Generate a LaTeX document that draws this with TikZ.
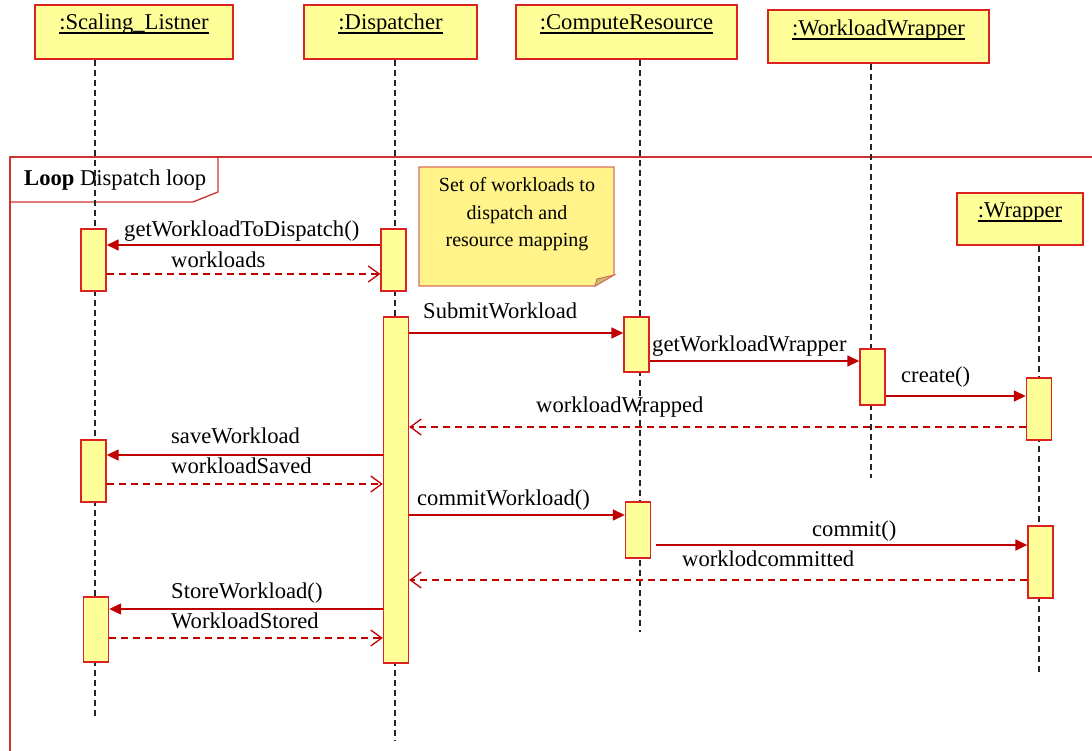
\documentclass[tikz,border=0pt]{standalone}
\usepackage{fontspec}
\setmainfont{Liberation Serif}
\newfontfamily\diagfont{Liberation Serif}
\usetikzlibrary{arrows.meta}

\definecolor{objfill}{HTML}{FFFF99}
\definecolor{objline}{HTML}{DD2222}
\definecolor{msgred}{HTML}{C00000}
\definecolor{framered}{HTML}{CC3333}
\definecolor{notefill}{HTML}{FFF38A}
\definecolor{noteline}{HTML}{D8705E}
\definecolor{notefold}{HTML}{C9C070}

% object names: underline drawn close to the baseline
\newcommand\objname[1]{\setbox0\hbox{#1}\rlap{\rule[-3.6pt]{\wd0}{1.1pt}}\box0}

\begin{document}
\begin{tikzpicture}[x=1pt,y=-1pt,
  lbl/.style={font=\diagfont\fontsize{22.6}{26}\selectfont, inner sep=0pt, anchor=base west},
  notetext/.style={font=\diagfont\fontsize{20}{24}\selectfont, inner sep=0pt, anchor=base},
  objbox/.style={draw=objline, fill=objfill, line width=1.4pt, inner sep=0pt,
                 font=\diagfont\fontsize{22.6}{26}\selectfont},
  actbox/.style={draw=objline, fill=objfill, line width=1.4pt, inner sep=0pt, minimum width=25pt},
  lifeline/.style={draw=black!85, line width=1.1pt, dash pattern=on 6pt off 4pt},
  call/.style={draw=msgred, line width=1.5pt, -{Triangle[length=12pt,width=11pt]}},
  reply/.style={draw=msgred, line width=1.3pt, dash pattern=on 7pt off 5pt,
                -{Straight Barb[length=11pt,width=16pt,line width=1.3pt]}},
  frame/.style={draw=framered, line width=1.3pt},
]
\useasboundingbox (0,0) rectangle (1092,751);

% ---- loop frame ----
\draw[frame] (10,760) -- (10,157) -- (1092,157);
\draw[frame] (218,157) -- (218,192) -- (193,202) -- (10,202);
\node[lbl] (looplbl) at (24,186) {\textbf{Loop} Dispatch loop};

% ---- object heads ----
\node[objbox, minimum width=198pt, text height=25pt, text depth=29pt] (hSL) at (134,32) {\objname{:Scaling\_Listner}};
\node[objbox, minimum width=173pt, text height=25pt, text depth=29pt] (hD) at (390.5,32) {\objname{:Dispatcher}};
\node[objbox, minimum width=221pt, text height=25pt, text depth=29pt] (hCR) at (626.5,32) {\objname{:ComputeResource}};
\node[objbox, minimum width=221pt, text height=26pt, text depth=27pt] (hWW) at (878.5,36.5) {\objname{:WorkloadWrapper}};
\node[objbox, minimum width=126pt, text height=25pt, text depth=27pt] (hW) at (1020,219) {\objname{:Wrapper}};

% ---- note ----
\draw[noteline, fill=notefill, line width=1.2pt]
  (419,167) -- (614,167) -- (614,275) -- (595,286) -- (419,286) -- cycle;
\draw[noteline, fill=notefold, line width=1pt] (614,275) -- (597,279) -- (595,286) -- cycle;
\node[notetext] (noteA) at (517,192) {Set of workloads to};
\node[notetext] (noteB) at (517,220) {dispatch and};
\node[notetext] (noteC) at (517,247) {resource mapping};

% ---- lifelines ----
\coordinate (eSL) at (95,717);
\coordinate (eD) at (395,740);
\coordinate (eCR) at (640,632);
\coordinate (eWW) at (871,478);
\coordinate (eW) at (1039,672);
\draw[lifeline] (hSL.south -| eSL) -- (eSL);
\draw[lifeline] (hD.south -| eD) -- (eD);
\draw[lifeline] (hCR.south -| eCR) -- (eCR);
\draw[lifeline] (hWW.south -| eWW) -- (eWW);
\draw[lifeline] (hW.south -| eW) -- (eW);

% ---- activation bars ----
\node[actbox, minimum height=62pt] (sA1) at (93.5,260) {};
\node[actbox, minimum height=62pt] (sA2) at (93.5,471) {};
\node[actbox, minimum height=65pt] (sA3) at (96,629.5) {};
\node[actbox, minimum height=62pt] (dA1) at (393.5,260) {};
\node[actbox, minimum height=346pt] (dA2) at (396,490) {};
\node[actbox, minimum height=55pt] (cA1) at (636.5,344.5) {};
\node[actbox, minimum height=56pt] (cA2) at (638,530) {};
\node[actbox, minimum height=56pt] (wwA1) at (872.5,377) {};
\node[actbox, minimum height=62pt] (wA1) at (1039,409) {};
\node[actbox, minimum height=72pt] (wA2) at (1040.5,562) {};

% ---- messages ----
\draw[call] (dA1.west |- 0,245) -- (sA1.east |- 0,245);
\node[lbl] (m1) at (124,237) {getWorkloadToDispatch()};
\draw[reply] (sA1.east |- 0,274) -- (dA1.west |- 0,274);
\node[lbl] (m2) at (171,268) {workloads};

\draw[call] (dA2.east |- 0,333) -- (cA1.west |- 0,333);
\node[lbl] (m3) at (423,319) {SubmitWorkload};
\draw[call] (cA1.east |- 0,361) -- (wwA1.west |- 0,361);
\node[lbl] (m4) at (652,351) {getWorkloadWrapper};
\draw[call] (wwA1.east |- 0,396) -- (wA1.west |- 0,396);
\node[lbl] (m5) at (901,382) {create()};
\draw[reply] (wA1.west |- 0,427) -- (dA2.east |- 0,427);
\node[lbl] (m6) at (536,412) {workloadWrapped};

\draw[call] (dA2.west |- 0,455) -- (sA2.east |- 0,455);
\node[lbl] (m7) at (171,443) {saveWorkload};
\draw[reply] (sA2.east |- 0,484) -- (dA2.west |- 0,484);
\node[lbl] (m8) at (171,473) {workloadSaved};

\draw[call] (dA2.east |- 0,515) -- (cA2.west |- 0,515);
\node[lbl] (m9) at (417,505) {commitWorkload()};
\draw[call] ([xshift=5pt]cA2.east |- 0,545) -- (wA2.west |- 0,545);
\node[lbl] (m10) at (812,536) {commit()};
\draw[reply] (wA2.west |- 0,580) -- (dA2.east |- 0,580);
\node[lbl] (m11) at (682,566) {worklodcommitted};

\draw[call] (dA2.west |- 0,609) -- (sA3.east |- 0,609);
\node[lbl] (m12) at (171,598) {StoreWorkload()};
\draw[reply] (sA3.east |- 0,638) -- (dA2.west |- 0,638);
\node[lbl] (m13) at (171,628) {WorkloadStored};
\end{tikzpicture}
\end{document}
